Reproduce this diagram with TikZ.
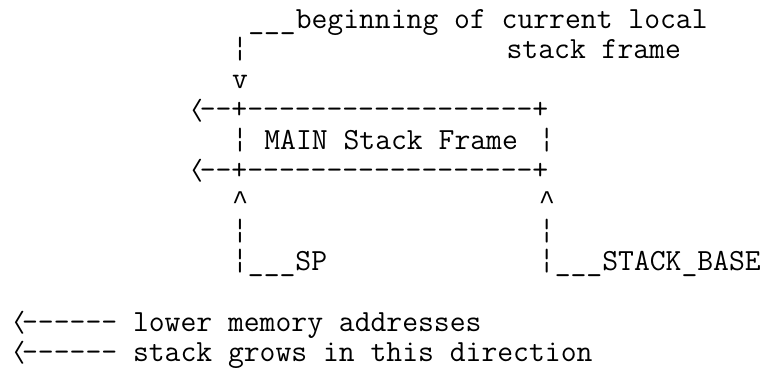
\documentclass[tikz,border=0pt]{standalone}
\usepackage{fontspec}
\usepackage{graphicx}
\newfontfamily\caretfont{Liberation Mono}
% one cell of the typewriter grid is 16.15pt wide
\newcommand{\bbar}{\char"00A6\relax}
\newcommand{\chev}{\makebox[16.15pt][l]{\kern5pt\raisebox{2.75pt}{\fontsize{10pt}{10pt}\selectfont\scalebox{3.3}[2.3]{\boldmath$\langle$}}}}
\newcommand{\caret}{\makebox[16.15pt][c]{\caretfont\fontsize{27pt}{27pt}\selectfont\char"5E\relax}}
\begin{document}
\begin{tikzpicture}[x=16.15pt,y=-30.3pt,
  ascii/.style={anchor=base west, inner sep=0pt, outer sep=0pt,
    font=\ttfamily\addfontfeatures{FakeBold=1.3}\fontsize{30.76pt}{30.3pt}\selectfont}]
  % page: white sheet of fixed size
  \fill[white] (0pt,0pt) rectangle (765pt,-368pt);
  \useasboundingbox (0pt,0pt) rectangle (765pt,-368pt);
  % character grid: x counts columns, y counts lines
  \begin{scope}[shift={(6pt,-28pt)}]
    \node[ascii] (begin)  at (15,0) {\_\_\_beginning of current local};
    \node[ascii] (barA)   at (14,1) {\bbar};
    \node[ascii] (frame)  at (31,1) {stack frame};
    \node[ascii] (down)   at (14,2) {v};
    \node[ascii] (top)    at (11,3) {\chev--+------------------+};
    \node[ascii] (barL)   at (14,4) {\bbar};
    \node[ascii] (main)   at (16,4) {MAIN Stack Frame};
    \node[ascii] (barR)   at (33,4) {\bbar};
    \node[ascii] (bottom) at (11,5) {\chev--+------------------+};
    \node[ascii] (upL)    at (14,6) {\caret};
    \node[ascii] (upR)    at (33,6) {\caret};
    \node[ascii] (barL2)  at (14,7) {\bbar};
    \node[ascii] (barR2)  at (33,7) {\bbar};
    \node[ascii] (sp)     at (14,8) {\bbar\_\_\_SP};
    \node[ascii] (base)   at (33,8) {\bbar\_\_\_STACK\_BASE};
    \node[ascii] (lower)  at (0,10) {\chev------ lower memory addresses};
    \node[ascii] (grows)  at (0,11) {\chev------ stack grows in this direction};
  \end{scope}
\end{tikzpicture}
\end{document}
